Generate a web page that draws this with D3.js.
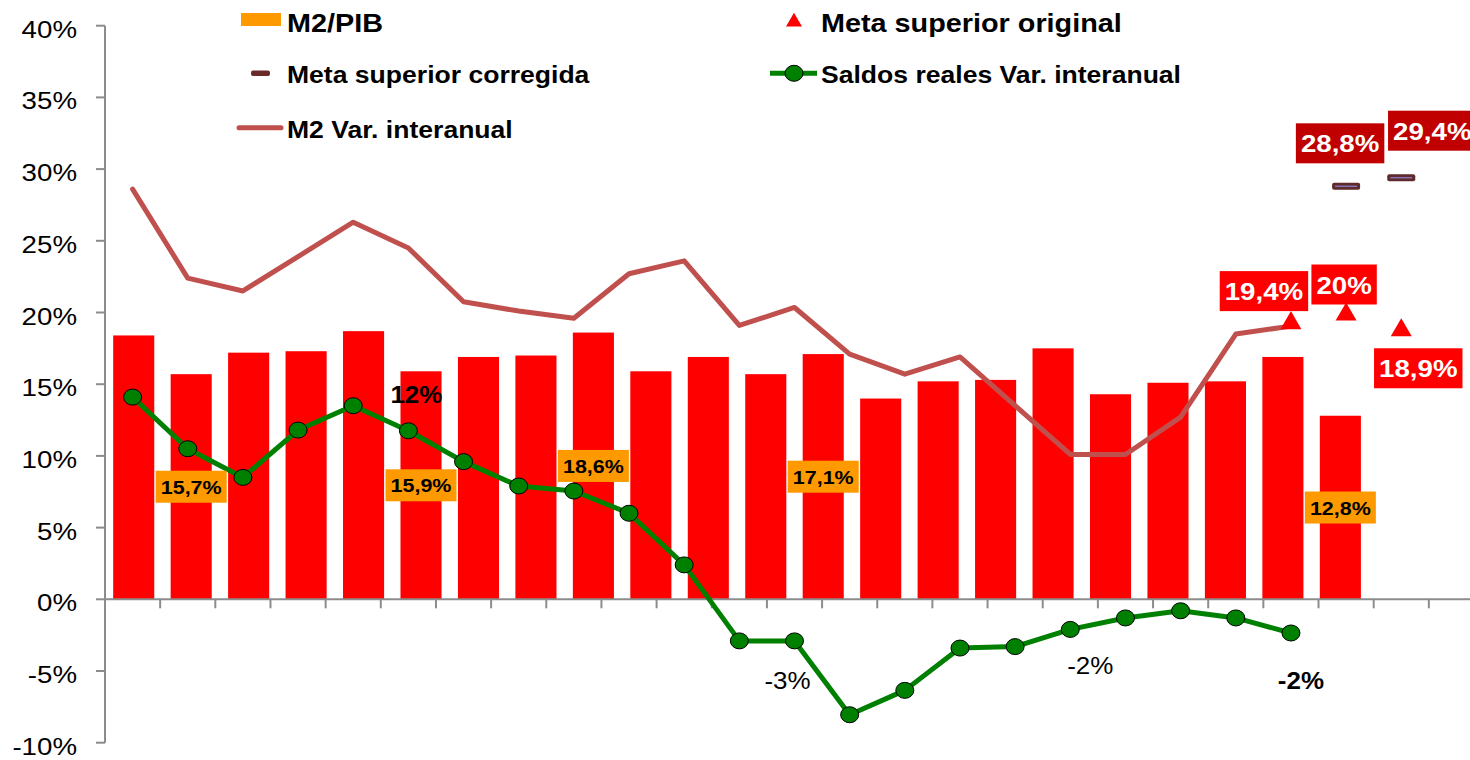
<!DOCTYPE html>
<html>
<head>
<meta charset="utf-8">
<script src="https://cdn.jsdelivr.net/npm/d3@7"></script>
<style>
  html, body { margin: 0; padding: 0; background: #fff; }
  svg { display: block; font-family: "Liberation Sans", Arial, sans-serif; }
</style>
</head>
<body>
<svg id="chart" width="1470" height="760"></svg>
<script>
// --- datos ---
const barCats = d3.range(24).map(i => `C${i + 1}`);      // eje primario (barras)
const lineCats = d3.range(25).map(i => `L${i + 1}`);     // eje secundario (líneas)

const m2Pib = [18.4, 15.7, 17.2, 17.3, 18.7, 15.9, 16.9, 17.0, 18.6, 15.9, 16.9,
               15.7, 17.1, 14.0, 15.2, 15.3, 17.5, 14.3, 15.1, 15.2, 16.9, 12.8];
const m2Var = [28.6, 22.4, 21.5, 23.9, 26.3, 24.5, 20.75, 20.1, 19.6, 22.7, 23.6,
               19.1, 20.35, 17.1, 15.7, 16.9, 13.5, 10.1, 10.1, 12.7, 18.5, 19.05];
const saldos = [14.1, 10.5, 8.5, 11.8, 13.5, 11.75, 9.6, 7.9, 7.55, 6.0, 2.4,
                -2.9, -2.9, -8.05, -6.35, -3.4, -3.3, -2.1, -1.3, -0.8, -1.3, -2.35];
const metaOrigIdx = [21, 22, 23];
const metaOrig = [19.4, 20.0, 18.9];
const metaCorrIdx = [22, 23];
const metaCorr = [28.8, 29.4];
const yTicks = [-10, -5, 0, 5, 10, 15, 20, 25, 30, 35, 40];

// etiquetas visibles
const barLabelIdx = [1, 5, 8, 12, 21];
const saldosLabelIdx = [5, 12, 17, 21];
const saldosLabelBold = [true, false, false, true];
const saldosLabelOff = [[8, -28], [-7, 48], [20, 45], [10, 56]];
const metaOrigOff = [[-27, -30], [-2, -28], [17, 40]];
const metaCorrOff = [[-6, -43], [31, -47]];

const SX = 1.13; // texto ligeramente estirado en horizontal
const fmt = v => (Math.round(v * 10) / 10).toString().replace('.', ',') + '%';

const svg = d3.select('#chart');
const L = 105, R = 1484, T = 25.7, B = 742.7;

const y = d3.scaleLinear().domain([-10, 40]).range([B, T]);
const xb = d3.scaleBand().domain(barCats).range([L, R]).paddingInner(0.285).paddingOuter(0.1425);
const xl = d3.scaleBand().domain(lineCats).range([L, R]);
const cx = i => xl(lineCats[i]) + xl.bandwidth() / 2;

function txt(g, x, yy, s, o = {}) {
  return g.append('text')
    .attr('transform', `translate(${x},${yy}) scale(${SX},1)`)
    .attr('text-anchor', o.anchor || 'start')
    .attr('font-size', o.size || 23.5)
    .attr('font-weight', o.bold ? 'bold' : 'normal')
    .attr('fill', o.fill || '#000')
    .text(s);
}

// barras M2/PIB
svg.append('g').selectAll('rect').data(m2Pib).join('rect')
  .attr('x', (d, i) => xb(barCats[i]))
  .attr('width', xb.bandwidth())
  .attr('y', d => y(d))
  .attr('height', d => y(0) - y(d))
  .attr('fill', '#ff0000');

// ejes
const axis = svg.append('g').attr('stroke', '#8c8c8c').attr('stroke-width', 2);
axis.append('line').attr('x1', L).attr('x2', L).attr('y1', T).attr('y2', B);
axis.selectAll('.yt').data(yTicks).join('line')
  .attr('x1', L - 9).attr('x2', L).attr('y1', d => y(d)).attr('y2', d => y(d));
axis.append('line').attr('x1', L).attr('x2', R).attr('y1', y(0)).attr('y2', y(0));
axis.selectAll('.xt').data(lineCats.slice(1)).join('line')
  .attr('x1', d => xl(d)).attr('x2', d => xl(d))
  .attr('y1', y(0)).attr('y2', y(0) + 9);

const yl = svg.append('g');
yTicks.forEach(t => txt(yl, 77, y(t) + 12, `${t}%`, { anchor: 'end', size: 24.5 }));

// M2 variación interanual
const line = d3.line().x((d, i) => cx(i)).y(d => y(d));
svg.append('path').datum(m2Var)
  .attr('d', line)
  .attr('fill', 'none').attr('stroke', '#c0504d').attr('stroke-width', 5)
  .attr('stroke-linejoin', 'round').attr('stroke-linecap', 'round');

// saldos reales
svg.append('path').datum(saldos)
  .attr('d', line)
  .attr('fill', 'none').attr('stroke', '#008000').attr('stroke-width', 5)
  .attr('stroke-linejoin', 'round');
svg.append('g').selectAll('ellipse').data(saldos).join('ellipse')
  .attr('cx', (d, i) => cx(i)).attr('cy', d => y(d))
  .attr('rx', 9).attr('ry', 8)
  .attr('fill', '#008000').attr('stroke', '#000').attr('stroke-width', 1);

// meta superior original (triángulos)
const tri = d3.symbol().type(d3.symbolTriangle).size(190);
svg.append('g').selectAll('path').data(metaOrig).join('path')
  .attr('d', tri)
  .attr('transform', (d, i) => `translate(${cx(metaOrigIdx[i])},${y(d) + 2})`)
  .attr('fill', '#ff0000');

// meta superior corregida (guiones)
const corr = svg.append('g');
metaCorr.forEach((d, i) => {
  const x0 = cx(metaCorrIdx[i]);
  corr.append('rect').attr('x', x0 - 14).attr('y', y(d) - 3.5).attr('width', 28).attr('height', 7)
    .attr('rx', 2).attr('fill', '#5e2a2a');
  corr.append('line').attr('x1', x0 - 11).attr('x2', x0 + 11).attr('y1', y(d)).attr('y2', y(d))
    .attr('stroke', '#8a72b8').attr('stroke-width', 1.5);
});

// etiquetas de barras (centro)
const bl = svg.append('g');
barLabelIdx.forEach(i => {
  const x0 = xb(barCats[i]) + xb.bandwidth() / 2, y0 = y(m2Pib[i] / 2);
  bl.append('rect').attr('x', x0 - 35.5).attr('y', y0 - 16).attr('width', 71).attr('height', 32)
    .attr('fill', '#ff9900');
  txt(bl, x0, y0 + 7, fmt(m2Pib[i]), { anchor: 'middle', size: 19, bold: true });
});

// etiquetas de saldos
const sl = svg.append('g');
saldosLabelIdx.forEach((i, k) => {
  txt(sl, cx(i) + saldosLabelOff[k][0], y(saldos[i]) + saldosLabelOff[k][1],
    `${Math.round(saldos[i])}%`, { anchor: 'middle', size: 23, bold: saldosLabelBold[k] });
});

// etiquetas en recuadro
function boxLabel(g, x0, y0, s, fill) {
  const r = g.append('rect').attr('fill', fill);
  const t = txt(g, x0, y0 + 9, s, { anchor: 'middle', size: 24.5, bold: true, fill: '#fff' });
  const w = t.node().getComputedTextLength() * SX + 10;
  r.attr('x', x0 - w / 2).attr('y', y0 - 20).attr('width', w).attr('height', 40);
}
const ml = svg.append('g');
metaOrig.forEach((d, i) => boxLabel(ml, cx(metaOrigIdx[i]) + metaOrigOff[i][0], y(d) + metaOrigOff[i][1], fmt(d), '#ff0000'));
metaCorr.forEach((d, i) => boxLabel(ml, cx(metaCorrIdx[i]) + metaCorrOff[i][0], y(d) + metaCorrOff[i][1], fmt(d), '#c00000'));

// leyenda
const lg = svg.append('g');
lg.append('rect').attr('x', 241).attr('y', 13).attr('width', 40).attr('height', 13).attr('fill', '#ff9900');
txt(lg, 287, 31.5, 'M2/PIB', { bold: true, size: 25.5 });
lg.append('rect').attr('x', 251).attr('y', 70.5).attr('width', 19).attr('height', 5.5).attr('rx', 2).attr('fill', '#6b2a2a');
txt(lg, 287, 83, 'Meta superior corregida', { bold: true });
lg.append('line').attr('x1', 239).attr('x2', 281).attr('y1', 127.7).attr('y2', 127.7)
  .attr('stroke', '#c0504d').attr('stroke-width', 5).attr('stroke-linecap', 'round');
txt(lg, 287, 138, 'M2 Var. interanual', { bold: true });
lg.append('path').attr('d', d3.symbol().type(d3.symbolTriangle).size(110))
  .attr('transform', 'translate(794,22)').attr('fill', '#ff0000');
txt(lg, 821, 32, 'Meta superior original', { bold: true, size: 25.5 });
lg.append('line').attr('x1', 770).attr('x2', 817).attr('y1', 73.3).attr('y2', 73.3)
  .attr('stroke', '#008000').attr('stroke-width', 5);
lg.append('ellipse').attr('cx', 794).attr('cy', 73.3).attr('rx', 9).attr('ry', 8)
  .attr('fill', '#008000').attr('stroke', '#000').attr('stroke-width', 1);
txt(lg, 821, 83, 'Saldos reales Var. interanual', { bold: true });
</script>
</body>
</html>
